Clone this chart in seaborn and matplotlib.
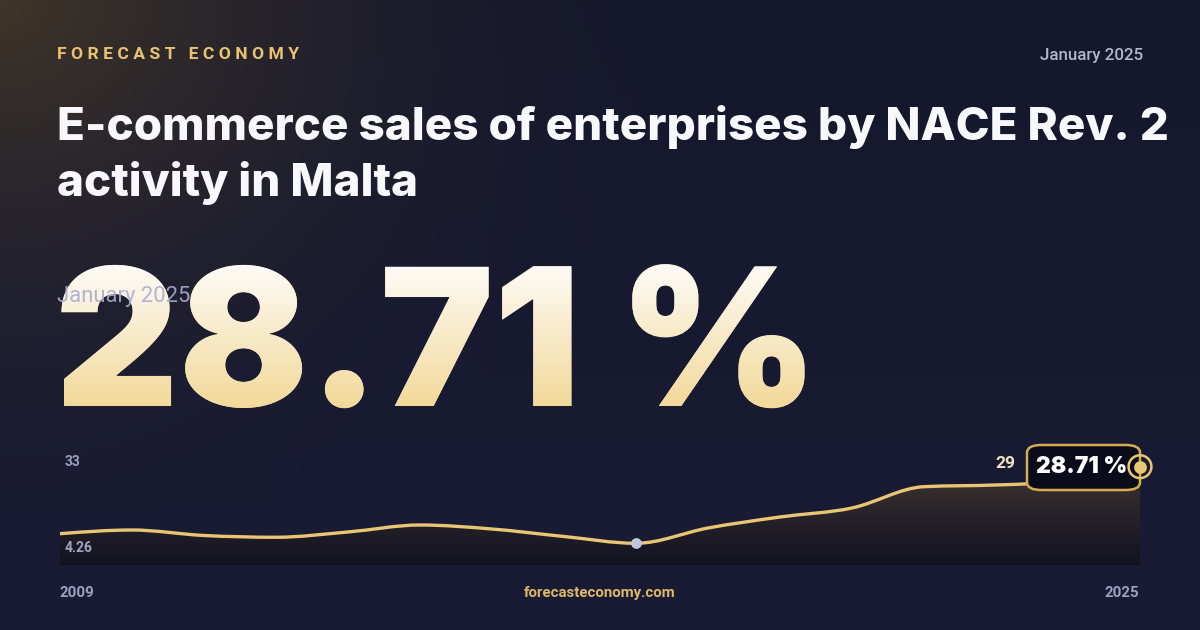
import numpy as np
import pandas as pd
import seaborn as sns
import matplotlib.pyplot as plt
from matplotlib import font_manager as fm
from matplotlib.font_manager import FontProperties
from matplotlib.textpath import TextPath
from matplotlib.patches import PathPatch, FancyBboxPatch
from matplotlib.path import Path
import matplotlib.colors as mcolors

values = [7.32, 8.50, 6.75, 6.18, 7.87, 10.10, 8.82, 6.43, 4.26,
          9.14, 12.65, 15.53, 22.33, 22.87, 24.0, 28.71]
period_labels = ["2009", "2025"]
axis_labels = ["33", "4.26"]
latest_value = 28.71
peak_label = "29"
highlight_idx = 8

W, H = 1200, 630
GOLD = "#e9c674"

sns.set_theme(style="dark")
plt.rcParams['font.family'] = ['Roboto', 'DejaVu Sans']


def weight_of(entry):
    w = entry.weight
    if isinstance(w, str):
        w = fm.weight_dict.get(w, 400)
    return int(w)


def heavy_family(cands, minw):
    # first installed family that really has a heavy cut
    for fam in cands:
        for e in fm.fontManager.ttflist:
            if e.name == fam and weight_of(e) >= minw:
                return fam
    return "DejaVu Sans"


BLACK_FAM = heavy_family(["Inter", "Lato", "Roboto", "Open Sans", "Noto Sans"], 800)
black_fp = FontProperties(family=BLACK_FAM, weight="black")


def size_for(s, fp, width_px=None, height_px=None):
    e = TextPath((0, 0), s, size=100, prop=fp).get_extents()
    if width_px is not None:
        return 100 * width_px / e.width * 0.72
    return 100 * height_px / e.height * 0.72


def monotone_path(x, y):
    # cubic bezier path with monotone tangents (like d3 curveMonotoneX)
    x = np.asarray(x, float)
    y = np.asarray(y, float)
    n = len(x)
    h = np.diff(x)
    s = np.diff(y) / h
    m = np.zeros(n)
    for i in range(1, n - 1):
        p = (s[i - 1] * h[i] + s[i] * h[i - 1]) / (h[i - 1] + h[i])
        m[i] = (np.sign(s[i - 1]) + np.sign(s[i])) * min(abs(s[i - 1]), abs(s[i]), 0.5 * abs(p))
    m[0] = (3 * s[0] - m[1]) / 2
    m[-1] = (3 * s[-1] - m[-2]) / 2
    verts = [(x[0], y[0])]
    codes = [Path.MOVETO]
    for i in range(n - 1):
        d = h[i] / 3
        verts += [(x[i] + d, y[i] + m[i] * d), (x[i + 1] - d, y[i + 1] - m[i + 1] * d),
                  (x[i + 1], y[i + 1])]
        codes += [Path.CURVE4] * 3
    return verts, codes


fig = plt.figure(figsize=(12, 6.3), dpi=100)


def fx(x):
    return x / W


def fy(y):
    return 1 - y / H


# background with a warm glow in the top-left corner
bg = fig.add_axes([0, 0, 1, 1], zorder=0)
yy, xx = np.mgrid[0:H, 0:W]
base_top = np.array(mcolors.to_rgb("#15172c"))
base_bot = np.array(mcolors.to_rgb("#1a1c36"))
t = (yy / H)[..., None]
img = base_top * (1 - t) + base_bot * t
r = np.sqrt(xx ** 2 + (yy * 1.2) ** 2)
glow = np.clip(1 - r / 680, 0, 1)[..., None] ** 1.8
warm = np.array(mcolors.to_rgb("#3f3529"))
img = img * (1 - glow) + warm * glow
bg.imshow(img, extent=[0, W, 0, H], aspect="auto", origin="upper")
bg.set_xlim(0, W)
bg.set_ylim(0, H)
bg.axis("off")

# header
fig.text(fx(57), fy(59), "F O R E C A S T   E C O N O M Y", color="#e6c271",
         fontsize=12.6, fontweight="bold", va="baseline", ha="left")
fig.text(fx(1143), fy(60), "January 2025", color="#b3b6d0", fontsize=12.2,
         fontweight="medium", va="baseline", ha="right")

# title
title_lines = ["E-commerce sales of enterprises by NACE Rev. 2", "activity in Malta"]
title_fp = FontProperties(family=BLACK_FAM, weight="heavy")
title_pt = min(size_for(title_lines[0], title_fp, width_px=1106), 34)
fig.text(fx(57), fy(140), title_lines[0], color="#f8f8fc", fontproperties=title_fp,
         fontsize=title_pt, va="baseline", ha="left")
fig.text(fx(57), fy(196), title_lines[1], color="#f8f8fc", fontproperties=title_fp,
         fontsize=title_pt, va="baseline", ha="left")

# big number: real text, with a gradient overlay clipped to its outline
big = f"{latest_value:.2f} %"
big_pt = size_for("28", black_fp, height_px=143)
big_pt = min(big_pt, size_for(big, black_fp, width_px=760))
fig.text(fx(55), fy(406), big, color="#f7e6bb", fontproperties=black_fp,
         fontsize=big_pt, va="baseline", ha="left", zorder=2)

ov = fig.add_axes([0, 0, 1, 1], zorder=3)
ov.set_xlim(0, W)
ov.set_ylim(0, H)
ov.axis("off")
tp = TextPath((55, H - 406), big, size=big_pt / 0.72, prop=black_fp)
clip = PathPatch(tp, transform=ov.transData, facecolor="none", edgecolor="none")
ov.add_patch(clip)
ext = tp.get_extents()
grad = np.linspace(0, 1, 256)[:, None, None]
top_c = np.array(mcolors.to_rgb("#fdfcf9"))
bot_c = np.array(mcolors.to_rgb("#f3d897"))
gimg = np.repeat(top_c * (1 - grad) + bot_c * grad, 2, axis=1)
gi = ov.imshow(gimg, extent=[ext.x0 - 2, ext.x1 + 2, ext.y0 - 2, ext.y1 + 2],
               aspect="auto", origin="upper")
gi.set_clip_path(clip)
ov.set_xlim(0, W)
ov.set_ylim(0, H)

fig.text(fx(57), fy(302), "January 2025", color="#a9acd0", alpha=0.9,
         fontsize=15.8, va="baseline", ha="left", zorder=5)

# sparkline
ylo, yhi = -2.67, 32.44
ax = fig.add_axes([fx(60), fy(565), fx(1140) - fx(60), fy(455) - fy(565)], zorder=4)
ax.patch.set_alpha(0)
idx = np.arange(len(values))
df = pd.DataFrame({"idx": idx, "value": values})

verts, codes = monotone_path(df["idx"], df["value"])
line_path = Path(verts, codes)
area_path = Path(verts + [(idx[-1], ylo), (idx[0], ylo), verts[0]],
                 codes + [Path.LINETO, Path.LINETO, Path.CLOSEPOLY])

fgrad = np.linspace(0, 1, 256)[:, None, None] ** 0.8
f_top = np.array(mcolors.to_rgb("#4a3f36"))
f_bot = np.array(mcolors.to_rgb("#121221"))
fimg = np.repeat(f_top * (1 - fgrad) + f_bot * fgrad, 2, axis=1)
fi = ax.imshow(fimg, extent=[0, len(values) - 1, ylo, yhi], aspect="auto",
               origin="upper", zorder=1)
fi.set_clip_path(area_path, transform=ax.transData)

ax.add_patch(PathPatch(line_path, facecolor="none", edgecolor=GOLD, linewidth=2.4,
                       capstyle="butt", joinstyle="round", zorder=3))
sns.scatterplot(x=[idx[highlight_idx]], y=[values[highlight_idx]], ax=ax, s=60,
                color="#c3c6de", zorder=4, linewidth=0, legend=False)
ax.set_xlim(0, len(values) - 1)
ax.set_ylim(ylo, yhi)
ax.axis("off")

# value badge and end marker
badge = FancyBboxPatch((fx(1027), fy(490)), fx(1140) - fx(1027), fy(445) - fy(490),
                       boxstyle="round,pad=0,rounding_size=0.012",
                       transform=fig.transFigure, facecolor="#0b0c19",
                       edgecolor="#d6ac52", linewidth=1.8, zorder=5, clip_on=False)
ax.add_patch(badge)
ax.text(fx(1082), fy(473), big, transform=fig.transFigure, color="#ffffff",
        fontproperties=black_fp, fontsize=16.5, va="baseline", ha="center",
        zorder=6, clip_on=False)
last = len(values) - 1
ax.scatter([last], [values[-1]], s=270, facecolor="none", edgecolor=GOLD,
           linewidths=1.8, zorder=7, clip_on=False)
ax.scatter([last], [values[-1]], s=85, color=GOLD, zorder=8, clip_on=False,
           linewidths=0)

fig.text(fx(1015), fy(468), peak_label, color="#efe3c4", fontsize=12.5,
         fontweight="bold", va="baseline", ha="right", zorder=5)

# axis labels
fig.text(fx(65), fy(466), axis_labels[0], color="#9c9fbc", fontsize=10,
         fontweight="semibold", va="baseline", ha="left", zorder=5)
fig.text(fx(65), fy(552), axis_labels[1], color="#a3a6c2", fontsize=10,
         fontweight="semibold", va="baseline", ha="left", zorder=5)

# footer
fig.text(fx(60), fy(597), period_labels[0], color="#9ea2c0", fontsize=10.8,
         fontweight="bold", va="baseline", ha="left")
fig.text(fx(1139), fy(597), period_labels[1], color="#9ea2c0", fontsize=10.8,
         fontweight="bold", va="baseline", ha="right")
fig.text(fx(600), fy(597), "forecasteconomy.com", color="#dcb867", fontsize=10.8,
         fontweight="bold", va="baseline", ha="center")

fig.savefig("out.png", dpi=100)
